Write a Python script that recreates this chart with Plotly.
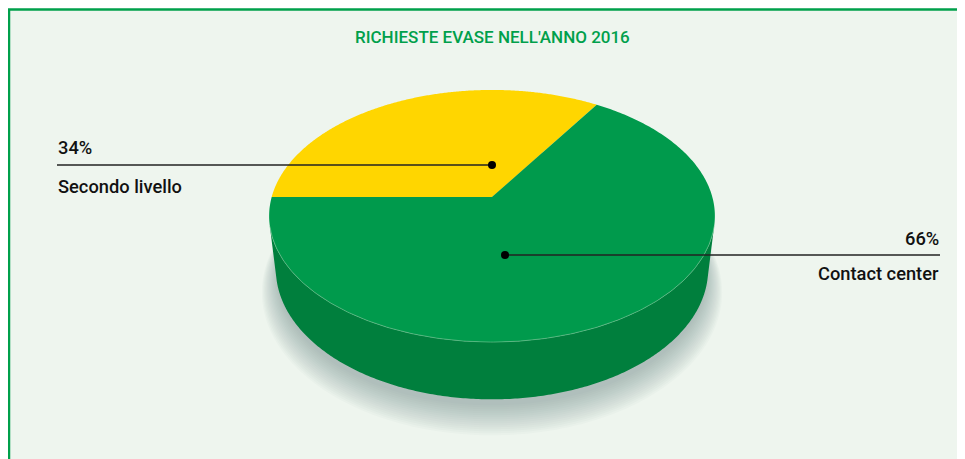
import numpy as np
import plotly.graph_objects as go

# ---------------- data ----------------
title_text = "RICHIESTE EVASE NELL'ANNO 2016"
labels = ["Secondo livello", "Contact center"]
values = [34, 66]
pct_labels = ["34%", "66%"]

# ---------------- style ----------------
top_colors = ["#FFD600", "#009A4C"]
side_colors = ["#D9B400", "#007F3D"]
BG = "#EEF5EE"
BORDER = "#00A04B"
FONT = "Roboto, sans-serif"

# page body has an 8px margin; the figure fills the rest of the 965x459 window
OFF = 8
W, H = 965 - OFF, 459 - OFF

# perspective projection of a unit-radius pie
elev = np.radians(34)
ce, se = np.cos(elev), np.sin(elev)
DIST = 6.63 * ce
SCALE = 1211
CX, CY = 492, 197
THICK = 0.30


def proj(X, Y, Z):
    depth = DIST + Y * ce - Z * se
    sx = X / depth
    sy = (Y * se + Z * ce) / depth
    return CX + SCALE * sx, CY - SCALE * sy


fig = go.Figure()

# ---- shadow (layered soft ellipses) ----
tt = np.linspace(0, 2 * np.pi, 200)
bx, by = proj(np.cos(tt), np.sin(tt), -THICK)
bcx = (bx.max() + bx.min()) / 2
bcy = (by.max() + by.min()) / 2
brx = (bx.max() - bx.min()) / 2
bry = (by.max() - by.min()) / 2
N = 16
for i in range(N):
    f = i / (N - 1)
    rx = brx - 2 + 16 * f
    ry = bry - 2 + 15 * f
    dy = 8 + 15 * f
    fig.add_trace(go.Scatter(
        x=bcx + rx * np.cos(tt), y=bcy + dy + ry * np.sin(tt),
        fill="toself", mode="none", fillcolor="rgba(110,120,115,0.03)",
        hoverinfo="skip", showlegend=False))

# ---- slices ----
total = sum(values)
start = np.pi
angles = []
a0 = start
for v in values:
    a1 = a0 - 2 * np.pi * v / total
    angles.append((a0, a1))
    a0 = a1

vis_lim = -1.0 / (DIST * ce)

# sides (front visible part)
for (a0, a1), col in zip(angles, side_colors):
    t = np.linspace(a0, a1, 400)
    vis = np.sin(t) < vis_lim
    if not vis.any():
        continue
    tv = t[vis]
    xt, yt = proj(np.cos(tv), np.sin(tv), 0)
    xb, yb = proj(np.cos(tv), np.sin(tv), -THICK)
    fig.add_trace(go.Scatter(
        x=np.concatenate([xt, xb[::-1]]), y=np.concatenate([yt, yb[::-1]]),
        fill="toself", mode="none", fillcolor=col,
        hoverinfo="skip", showlegend=False))

# tops
for (a0, a1), col in zip(angles, top_colors):
    t = np.linspace(a0, a1, 300)
    xs, ys = proj(np.cos(t), np.sin(t), 0)
    cx, cy = proj(0, 0, 0)
    fig.add_trace(go.Scatter(
        x=np.concatenate([[cx], xs, [cx]]), y=np.concatenate([[cy], ys, [cy]]),
        fill="toself", mode="none", fillcolor=col,
        hoverinfo="skip", showlegend=False))

# subtle rim highlight on front edge
t = np.linspace(np.pi, 2 * np.pi, 300)
t = t[np.sin(t) < vis_lim]
xs, ys = proj(np.cos(t), np.sin(t), 0)
fig.add_trace(go.Scatter(x=xs, y=ys, mode="lines",
                         line=dict(color="rgba(120,200,150,0.6)", width=1),
                         hoverinfo="skip", showlegend=False))

# ---- leader lines and labels ----
dot_pts = [(492, 165), (505, 255)]
line_ends = [57, 940]
for (dx, dy), xe in zip(dot_pts, line_ends):
    fig.add_trace(go.Scatter(x=[xe, dx], y=[dy, dy], mode="lines",
                             line=dict(color="#222222", width=1.5),
                             hoverinfo="skip", showlegend=False))
fig.add_trace(go.Scatter(x=[p[0] for p in dot_pts], y=[p[1] for p in dot_pts],
                         mode="markers", marker=dict(color="#000000", size=8),
                         hoverinfo="skip", showlegend=False))

ann = []
ann.append(dict(x=56, y=147, text=pct_labels[0], xanchor="left", yanchor="middle"))
ann.append(dict(x=56, y=186, text=labels[0], xanchor="left", yanchor="middle"))
ann.append(dict(x=941, y=238, text=pct_labels[1], xanchor="right", yanchor="middle"))
ann.append(dict(x=941, y=273, text=labels[1], xanchor="right", yanchor="middle"))
for a in ann:
    a.update(xref="x", yref="y", showarrow=False,
             font=dict(family=FONT, size=18.3, color="#111111", weight=500))
ann.append(dict(x=492, y=37, xref="x", yref="y", text=title_text, showarrow=False,
                xanchor="center", yanchor="middle",
                font=dict(family=FONT, size=17, color=BORDER, weight=500)))

fig.update_layout(
    width=W, height=H,
    margin=dict(l=0, r=0, t=0, b=0),
    paper_bgcolor="white", plot_bgcolor="white",
    xaxis=dict(range=[OFF, OFF + W], visible=False, fixedrange=True),
    yaxis=dict(range=[OFF + H, OFF], visible=False, fixedrange=True),
    annotations=ann,
    shapes=[dict(type="rect", xref="x", yref="y", x0=9, y0=9.5, x1=OFF + W + 10, y1=OFF + H + 10,
                 line=dict(color=BORDER, width=2.5), fillcolor=BG, layer="below")],
    showlegend=False,
)

fig.write_html("out.html")
